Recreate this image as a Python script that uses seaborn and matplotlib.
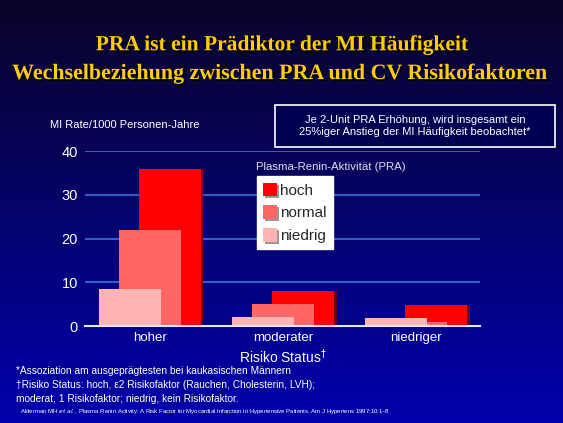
import matplotlib
matplotlib.use("Agg")
import matplotlib.pyplot as plt
import matplotlib.patheffects as pe
from matplotlib.patches import Patch, Rectangle
import numpy as np
import seaborn as sns

# data
risk_status = ["hoher", "moderater", "niedriger"]
pra_levels = ["hoch", "normal", "niedrig"]
mi_hoch = [36.0, 8.0, 4.8]
mi_normal = [22.0, 5.0, 1.0]
mi_niedrig = [8.5, 2.1, 1.8]
y_ticks = [0, 10, 20, 30, 40]

colors = {"hoch": "#FF0000", "normal": "#FF6666", "niedrig": "#FFB3B3"}
shadow = {"hoch": "#6A0020", "normal": "#8A1030", "niedrig": "#7A3060"}
offsets = {"hoch": 0.15, "normal": 0.0, "niedrig": -0.15}
series = {"hoch": mi_hoch, "normal": mi_normal, "niedrig": mi_niedrig}

sns.set_style("white")
plt.rcParams["font.family"] = ["Liberation Sans", "DejaVu Sans"]

fig = plt.figure(figsize=(5.63, 4.23), dpi=100)

# slide background gradient
bg = fig.add_axes([0, 0, 1, 1], zorder=-10)
grad = np.linspace(0, 1, 256)[:, None]
top = np.array([10, 5, 40]) / 255
bottom = np.array([0, 0, 172]) / 255
img = top[None, None, :] * (1 - grad[:, :, None]) + bottom[None, None, :] * grad[:, :, None]
bg.imshow(img, aspect="auto", extent=[0, 1, 0, 1])
bg.set_axis_off()

ax = fig.add_axes([0.151, 0.229, 0.702, 0.414])
ax.patch.set_alpha(0)

x = np.arange(len(risk_status))
# back to front: hoch, normal, niedrig
for lvl in pra_levels:
    vals = series[lvl]
    sns.barplot(x=x + offsets[lvl] + 0.018, y=vals, native_scale=True, width=0.466,
                color=shadow[lvl], saturation=1, linewidth=0, edgecolor="none", ax=ax, zorder=2)
    sns.barplot(x=x + offsets[lvl], y=vals, native_scale=True, width=0.466,
                color=colors[lvl], saturation=1, linewidth=0, edgecolor="none", ax=ax, zorder=3)

ax.set_xlim(-0.489, 2.48)
ax.set_ylim(0, 40)
ax.set_yticks(y_ticks)
ax.set_yticklabels([str(t) for t in y_ticks], color="white", fontsize=10.5)
ax.set_xticks(x)
ax.set_xticklabels(risk_status, color="white", fontsize=9.5)
ax.tick_params(length=0, pad=4)
ax.tick_params(axis="y", pad=5)
for t in y_ticks[1:]:
    ax.axhline(t, color="#2F5FC0", lw=1.5, zorder=1)
for s in ["top", "right", "left"]:
    ax.spines[s].set_visible(False)
ax.spines["bottom"].set_color("#E6E6F0")
ax.spines["bottom"].set_linewidth(1.5)
ax.spines["bottom"].set_zorder(5)
ax.set_xlabel("Risiko Status$^{\\dagger}$", color="white", fontsize=10, labelpad=3)
ax.set_ylabel("")

# legend
handles = [Patch(facecolor=colors[l], edgecolor="none") for l in pra_levels]
leg = fig.legend(handles, pra_levels, loc="upper left", bbox_to_anchor=(0.456, 0.583),
                 frameon=True, fancybox=False, framealpha=1, edgecolor="white",
                 fontsize=11, handlelength=0.9, handleheight=1.0, handletextpad=0.25,
                 labelspacing=0.5, borderpad=0.4, borderaxespad=0)
for p in leg.get_patches():
    p.set_path_effects([pe.SimplePatchShadow(offset=(1.5, -1.5), shadow_rgbFace="#999999", alpha=1), pe.Normal()])
fig.text(0.455, 0.605, "Plasma-Renin-Aktivität (PRA)", color="#DDDDEE", fontsize=8.2, va="center")

# title
title_fx = [pe.SimplePatchShadow(offset=(1.5, -1.5), shadow_rgbFace="black", alpha=0.8), pe.Normal()]
fig.text(0.5, 0.893, "PRA ist ein Prädiktor der MI Häufigkeit", color="#FFCC00",
         fontsize=15.5, fontweight="bold", family="Liberation Serif", ha="center", va="center",
         path_effects=title_fx)
fig.text(0.5, 0.825, "Wechselbeziehung zwischen PRA und CV Risikofaktoren", color="#FFCC00",
         fontsize=15.8, fontweight="bold", family="Liberation Serif", ha="center", va="center",
         path_effects=title_fx)

# y-axis caption
fig.text(0.089, 0.705, "MI Rate/1000 Personen-Jahre", color="white", fontsize=8, va="center")

# note box
box = Rectangle((0.489, 0.652), 0.497, 0.099, transform=fig.transFigure,
                facecolor="#000050", edgecolor="white", lw=1.2)
fig.patches.append(box)
fig.text(0.737, 0.702, "Je 2-Unit PRA Erhöhung, wird insgesamt ein\n25%iger Anstieg der MI Häufigkeit beobachtet*",
         color="white", fontsize=8, ha="center", va="center", linespacing=1.2)

# footnotes
fig.text(0.028, 0.124, "*Assoziation am ausgeprägtesten bei kaukasischen Männern", color="white", fontsize=7.3, va="center")
fig.text(0.028, 0.089, "†Risiko Status: hoch, ε2 Risikofaktor (Rauchen, Cholesterin, LVH);", color="white", fontsize=7.3, va="center")
fig.text(0.028, 0.056, "moderat, 1 Risikofaktor; niedrig, kein Risikofaktor.", color="white", fontsize=7.3, va="center")
fig.text(0.036, 0.028, "Alderman MH $\\it{et\\ al.}$, Plasma Renin Activity: A Risk Factor for Myocardial Infarction in Hypertensive Patients. Am J Hypertens 1997;10:1\u20138",
         color="white", fontsize=4.3, va="center")

fig.savefig("out.png", dpi=100)
